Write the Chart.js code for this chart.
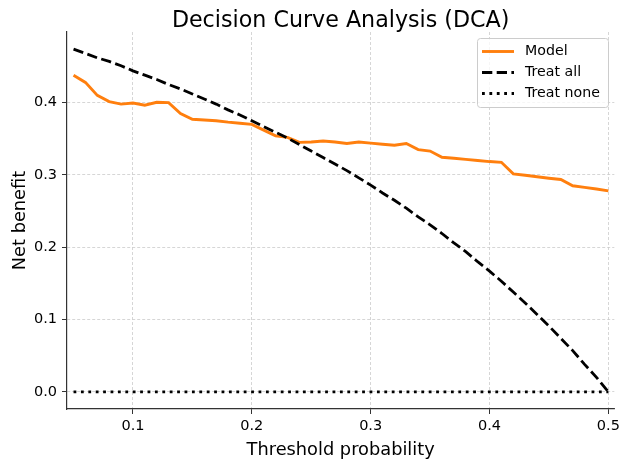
<!DOCTYPE html>
<html>
<head>
<meta charset="utf-8">
<script src="https://cdn.jsdelivr.net/npm/chart.js@4.4.1/dist/chart.umd.min.js"></script>
<style>
html,body{margin:0;padding:0;background:#fff;}
#wrap{width:624px;height:459px;position:relative;}
</style>
</head>
<body>
<div id="wrap"><canvas id="c" width="624" height="459"></canvas></div>
<script>
const thresholds = [0.05,0.06,0.07,0.08,0.09,0.10,0.11,0.12,0.13,0.14,0.15,0.16,0.17,0.18,0.19,0.20,0.21,0.22,0.23,0.24,0.25,0.26,0.27,0.28,0.29,0.30,0.31,0.32,0.33,0.34,0.35,0.36,0.37,0.38,0.39,0.40,0.41,0.42,0.43,0.44,0.45,0.46,0.47,0.48,0.49,0.50];
const modelNB = [0.438,0.428,0.410,0.4015,0.398,0.3995,0.3965,0.4005,0.400,0.385,0.377,0.376,0.375,0.373,0.3715,0.370,0.362,0.354,0.352,0.345,0.3455,0.347,0.3455,0.3435,0.3455,0.344,0.3425,0.341,0.3435,0.335,0.333,0.3245,0.323,0.3215,0.320,0.3185,0.3175,0.3015,0.2995,0.2975,0.2955,0.2937,0.285,0.2828,0.2805,0.278];
const treatAllNB = [0.474,0.468,0.462,0.457,0.451,0.444,0.438,0.432,0.425,0.419,0.412,0.405,0.398,0.390,0.383,0.375,0.367,0.359,0.351,0.342,0.333,0.324,0.315,0.306,0.296,0.286,0.275,0.265,0.254,0.242,0.231,0.219,0.206,0.194,0.180,0.167,0.153,0.138,0.123,0.107,0.091,0.074,0.057,0.038,0.020,0.000];
const treatNoneNB = [0,0,0,0,0,0,0,0,0,0,0,0,0,0,0,0,0,0,0,0,0,0,0,0,0,0,0,0,0,0,0,0,0,0,0,0,0,0,0,0,0,0,0,0,0,0];
const xTicks = [0.1,0.2,0.3,0.4,0.5];
const yTicks = [0.0,0.1,0.2,0.3,0.4];
const seriesNames = ['Model','Treat all','Treat none'];
const titleText = 'Decision Curve Analysis (DCA)';
const xLabel = 'Threshold probability';
const yLabel = 'Net benefit';

const pts = arr => thresholds.map((t,i)=>({x:t,y:arr[i]}));
const FONT = '"DejaVu Sans", sans-serif';

const styles = [
  {color:'#ff7f0e', width:2.9, dash:[]},
  {color:'#000000', width:2.8, dash:[10.3,4.4]},
  {color:'#000000', width:2.8, dash:[2.8,4.6]}
];

const decor = {
  id:'decor',
  afterDraw(chart){
    const ctx = chart.ctx, a = chart.chartArea;
    ctx.save();
    ctx.fillStyle = '#000';
    ctx.textAlign = 'center';
    ctx.textBaseline = 'alphabetic';
    ctx.font = '22.2px ' + FONT;
    ctx.fillText(titleText, (a.left + a.right)/2, 26.7);
    ctx.font = '17.8px ' + FONT;
    ctx.fillText(xLabel, (a.left + a.right)/2, 454.5);
    ctx.save();
    ctx.translate(25, (a.top + a.bottom)/2);
    ctx.rotate(-Math.PI/2);
    ctx.fillText(yLabel, 0, 0);
    ctx.restore();
    // legend
    const bx = 477.5, by = 38.5, bw = 131, bh = 69, r = 3;
    ctx.beginPath();
    ctx.moveTo(bx+r,by); ctx.lineTo(bx+bw-r,by); ctx.quadraticCurveTo(bx+bw,by,bx+bw,by+r);
    ctx.lineTo(bx+bw,by+bh-r); ctx.quadraticCurveTo(bx+bw,by+bh,bx+bw-r,by+bh);
    ctx.lineTo(bx+r,by+bh); ctx.quadraticCurveTo(bx,by+bh,bx,by+bh-r);
    ctx.lineTo(bx,by+r); ctx.quadraticCurveTo(bx,by,bx+r,by);
    ctx.closePath();
    ctx.fillStyle = 'rgba(255,255,255,0.8)';
    ctx.fill();
    ctx.strokeStyle = '#cccccc';
    ctx.lineWidth = 1;
    ctx.stroke();
    ctx.font = '14.2px ' + FONT;
    ctx.textAlign = 'left';
    ctx.textBaseline = 'middle';
    const rows = [51.5, 72.5, 93.5];
    seriesNames.forEach((n,i)=>{
      const s = styles[i];
      ctx.beginPath();
      ctx.setLineDash(s.dash);
      ctx.lineCap = 'butt';
      ctx.strokeStyle = s.color;
      ctx.lineWidth = s.width;
      ctx.moveTo(482, rows[i]); ctx.lineTo(514, rows[i]);
      ctx.stroke();
      ctx.setLineDash([]);
      ctx.fillStyle = '#000';
      ctx.fillText(n, 525, rows[i]);
    });
    ctx.restore();
  }
};

new Chart(document.getElementById('c'), {
  type:'line',
  data:{
    datasets:[
      {label:seriesNames[0], data:pts(modelNB), borderColor:styles[0].color, borderWidth:styles[0].width, borderDash:styles[0].dash, pointRadius:0, tension:0, fill:false, order:3},
      {label:seriesNames[1], data:pts(treatAllNB), borderColor:styles[1].color, borderWidth:styles[1].width, borderDash:styles[1].dash, borderCapStyle:'butt', pointRadius:0, tension:0, fill:false, order:2},
      {label:seriesNames[2], data:pts(treatNoneNB), borderColor:styles[2].color, borderWidth:styles[2].width, borderDash:styles[2].dash, borderCapStyle:'butt', pointRadius:0, tension:0, fill:false, order:1}
    ]
  },
  options:{
    responsive:false,
    animation:false,
    devicePixelRatio:1,
    layout:{padding:{top:32,right:9,left:0,bottom:0}},
    plugins:{legend:{display:false}, title:{display:false}, tooltip:{enabled:false}},
    scales:{
      x:{
        type:'linear', min:0.0445, max:0.505,
        afterBuildTicks: s => { s.ticks = xTicks.map(v=>({value:v})); },
        afterFit: s => { s.height = 50; },
        ticks:{color:'#000', font:{family:FONT, size:14.5}, padding:4, maxRotation:0, callback:v=>v.toFixed(1)},
        grid:{color:'#cccccc', lineWidth:0.8, tickColor:'#333333', tickLength:5, tickWidth:1, tickBorderDash:[]},
        border:{display:true, color:'#333333', width:1.2, dash:[3,2]}
      },
      y:{
        type:'linear', min:-0.0237, max:0.4977,
        afterBuildTicks: s => { s.ticks = yTicks.map(v=>({value:v})); },
        afterFit: s => { s.width = 67; },
        ticks:{color:'#000', font:{family:FONT, size:14.5}, padding:5, callback:v=>v.toFixed(1)},
        grid:{color:'#cccccc', lineWidth:0.8, tickColor:'#333333', tickLength:5, tickWidth:1, tickBorderDash:[]},
        border:{display:true, color:'#333333', width:1.2, dash:[3,2]}
      }
    }
  },
  plugins:[decor]
});
</script>
</body>
</html>
